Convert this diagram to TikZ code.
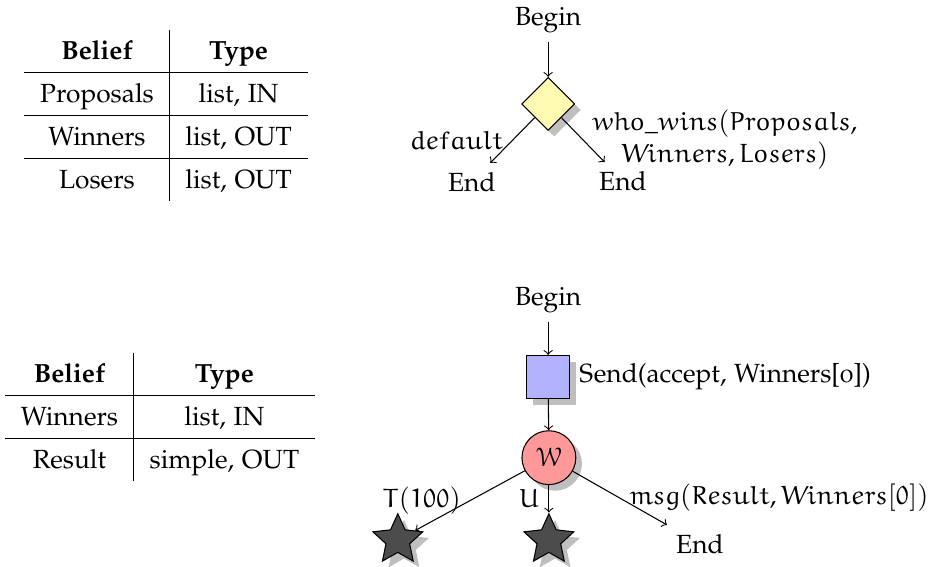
\documentclass[tikz,border=0pt]{standalone}
\usepackage[T1]{fontenc}
\usepackage[osf]{mathpazo}
\usepackage[mathcal]{eucal}
\usepackage{tikz}
\usetikzlibrary{shapes.geometric, shadows}

\renewcommand{\arraystretch}{1.33}
\DeclareMathAlphabet{\eul}{U}{eur}{m}{n}

\begin{document}
\begin{tikzpicture}[
    >=to,
    decision/.style={diamond, draw, fill=yellow!30, minimum size=0.71cm, inner sep=0pt, drop shadow},
    action/.style={rectangle, draw, fill=blue!30, minimum size=0.575cm, inner sep=0pt, drop shadow},
    waitstate/.style={circle, draw, fill=red!40, minimum size=0.72cm, inner sep=0pt, drop shadow},
    final/.style={star, star points=5, star point ratio=2.1, draw, fill=black!70, minimum size=0.7cm, inner sep=0pt, drop shadow},
    beliefs/.style={inner sep=0pt}
]
    \useasboundingbox (0,0) rectangle (12.49,-7.58);

    % Beliefs of the first plan
    \node[beliefs] (tabA) at (2.22,-1.54) {\begin{tabular}{c|c}
        \textbf{Belief} & \textbf{Type} \\ \hline
        Proposals & list, IN \\ \hline
        Winners & list, OUT \\ \hline
        Losers & list, OUT
    \end{tabular}};

    % First plan
    \node (beginA) at (7.33,-0.27) {Begin};
    \node[decision] (dec) at (7.33,-1.39) {};
    \node (endL) at (6.31,-2.43) {End};
    \node (endR) at (8.33,-2.42) {End};

    \draw[->] (beginA) -- (dec);
    \draw[->] (dec) -- node[left] {$\eul{default}$} (endL);
    \draw[->] (dec) -- node[right, align=center] {$\eul{who\_wins}(\eul{Proposals},$\\$\eul{Winners}, \eul{Losers})$} (endR);

    % Beliefs of the second plan
    \node[beliefs] (tabB) at (2.14,-5.58) {\begin{tabular}{c|c}
        \textbf{Belief} & \textbf{Type} \\ \hline
        Winners & list, IN \\ \hline
        Result & simple, OUT
    \end{tabular}};

    % Second plan
    \node (beginB) at (7.33,-4.01) {Begin};
    \node[action] (send) at (7.33,-5.04) {};
    \node[right] (sendlbl) at (send.east) {Send(accept, Winners[0])};
    \node[waitstate] (wait) at (7.34,-6.12) {$\mathcal{W}$};
    \node[final] (starL) at (5.32,-7.22) {};
    \node[final] (starM) at (7.34,-7.22) {};
    \node (endB) at (9.36,-7.27) {End};

    \draw[->] (beginB) -- (send);
    \draw[->] (send) -- (wait);
    \draw[->] (wait) -- node[left] {$\eul{T}(\eul{100})$} (starL);
    \draw[->] (wait) -- node[left] {$\eul{U}$} (starM);
    \draw[->] (wait) -- node[right] {$\eul{msg}(\eul{Result}, \eul{Winners}[\eul{0}])$} (endB);

\end{tikzpicture}
\end{document}
